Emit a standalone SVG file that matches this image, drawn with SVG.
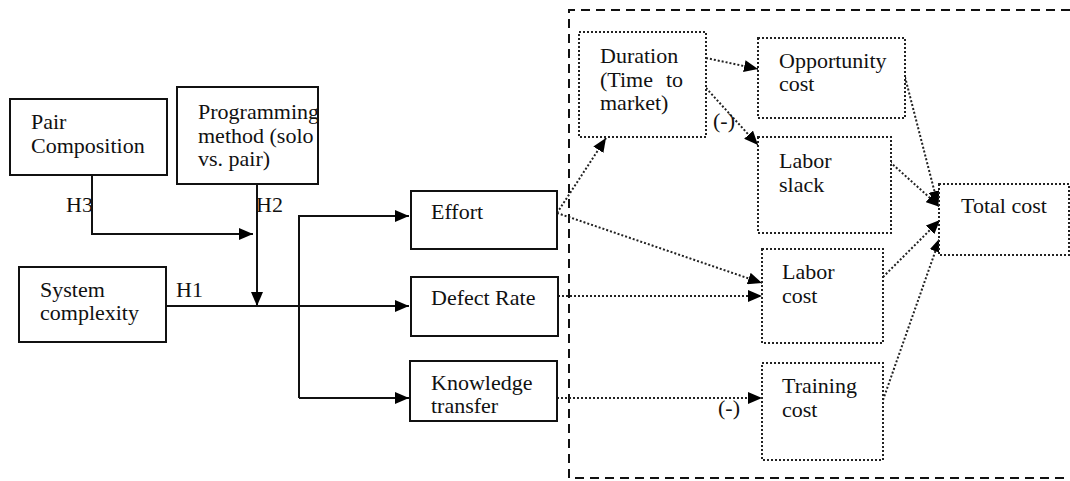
<svg xmlns="http://www.w3.org/2000/svg" width="1070" height="481" viewBox="0 0 1070 481">
  <style>
    text { font-family: "Liberation Serif", Tinos, "Times New Roman", "DejaVu Serif", serif; font-size: 22px; fill: #111; }
    .solid { fill: #fff; stroke: #111; stroke-width: 2; }
    .dot { fill: #fff; stroke: #222; stroke-width: 2; stroke-dasharray: 2 2; }
    .line { fill: none; stroke: #111; stroke-width: 2; }
    .dline { fill: none; stroke: #222; stroke-width: 2; stroke-dasharray: 2 2; }
    .frame { fill: none; stroke: #111; stroke-width: 2; stroke-dasharray: 9 6; }
  </style>
  <defs>
    <marker id="arrow" viewBox="0 0 14 12" refX="14" refY="6" markerWidth="14" markerHeight="12" markerUnits="userSpaceOnUse" orient="auto">
      <path d="M0,0 L14,6 L0,12 z" fill="#000"/>
    </marker>
  </defs>

  <!-- dashed boundary around the cost side -->
  <path class="frame" d="M1070,10 H569 V478 H1070"/>

  <!-- connectors -->
  <g id="connectors">
    <path class="line" d="M92,175 V234 H253" marker-end="url(#arrow)"/>
    <path class="line" d="M257,184 V306" marker-end="url(#arrow)"/>
    <path class="line" d="M166,306 H409" marker-end="url(#arrow)"/>
    <path class="line" d="M299,398 V216 H409" marker-end="url(#arrow)"/>
    <path class="line" d="M299,398 H409" marker-end="url(#arrow)"/>

    <path class="dline" d="M557,213 L606,138" marker-end="url(#arrow)"/>
    <path class="dline" d="M557,213 L762,283" marker-end="url(#arrow)"/>
    <path class="dline" d="M558,296 H762" marker-end="url(#arrow)"/>
    <path class="dline" d="M557,398 H762" marker-end="url(#arrow)"/>
    <path class="dline" d="M706,58 L758,69" marker-end="url(#arrow)"/>
    <path class="dline" d="M706,88 L758,145" marker-end="url(#arrow)"/>
    <path class="dline" d="M905,77 L938,205" marker-end="url(#arrow)"/>
    <path class="dline" d="M890,162 L940,207" marker-end="url(#arrow)"/>
    <path class="dline" d="M883,277 L940,220" marker-end="url(#arrow)"/>
    <path class="dline" d="M883,400 L940,238" marker-end="url(#arrow)"/>

    <text x="66" y="212">H3</text>
    <text x="256" y="212">H2</text>
    <text x="176" y="297">H1</text>
    <text x="713" y="128">(-)</text>
    <text x="718" y="415">(-)</text>
  </g>

  <g id="pair-composition">
    <rect class="solid" x="10" y="99" width="157" height="76"/>
    <text x="31" y="129">Pair</text>
    <text x="31" y="153">Composition</text>
  </g>
  <g id="programming-method">
    <rect class="solid" x="177" y="87" width="141" height="97"/>
    <text x="198" y="119">Programming</text>
    <text x="198" y="143">method (solo</text>
    <text x="198" y="166">vs. pair)</text>
  </g>
  <g id="system-complexity">
    <rect class="solid" x="19" y="267" width="147" height="75"/>
    <text x="40" y="297">System</text>
    <text x="40" y="320">complexity</text>
  </g>
  <g id="effort">
    <rect class="solid" x="411" y="191" width="146" height="58"/>
    <text x="431" y="219">Effort</text>
  </g>
  <g id="defect-rate">
    <rect class="solid" x="411" y="277" width="147" height="59"/>
    <text x="431" y="305">Defect Rate</text>
  </g>
  <g id="knowledge-transfer">
    <rect class="solid" x="410" y="361" width="147" height="60"/>
    <text x="431" y="390">Knowledge</text>
    <text x="431" y="413">transfer</text>
  </g>

  <g id="duration">
    <rect class="dot" x="579" y="32" width="127" height="105"/>
    <text x="600" y="63">Duration</text>
    <text x="600" y="87">(Time</text>
    <text x="666" y="87">to</text>
    <text x="600" y="110">market)</text>
  </g>
  <g id="opportunity-cost">
    <rect class="dot" x="758" y="38" width="147" height="80"/>
    <text x="779" y="68">Opportunity</text>
    <text x="779" y="91">cost</text>
  </g>
  <g id="labor-slack">
    <rect class="dot" x="758" y="137" width="133" height="96"/>
    <text x="779" y="168">Labor</text>
    <text x="779" y="192">slack</text>
  </g>
  <g id="labor-cost">
    <rect class="dot" x="762" y="249" width="121" height="94"/>
    <text x="782" y="279">Labor</text>
    <text x="782" y="303">cost</text>
  </g>
  <g id="training-cost">
    <rect class="dot" x="762" y="363" width="121" height="97"/>
    <text x="782" y="393">Training</text>
    <text x="782" y="417">cost</text>
  </g>
  <g id="total-cost">
    <rect class="dot" x="939" y="184" width="130" height="71"/>
    <text x="961" y="213">Total cost</text>
  </g>
</svg>
